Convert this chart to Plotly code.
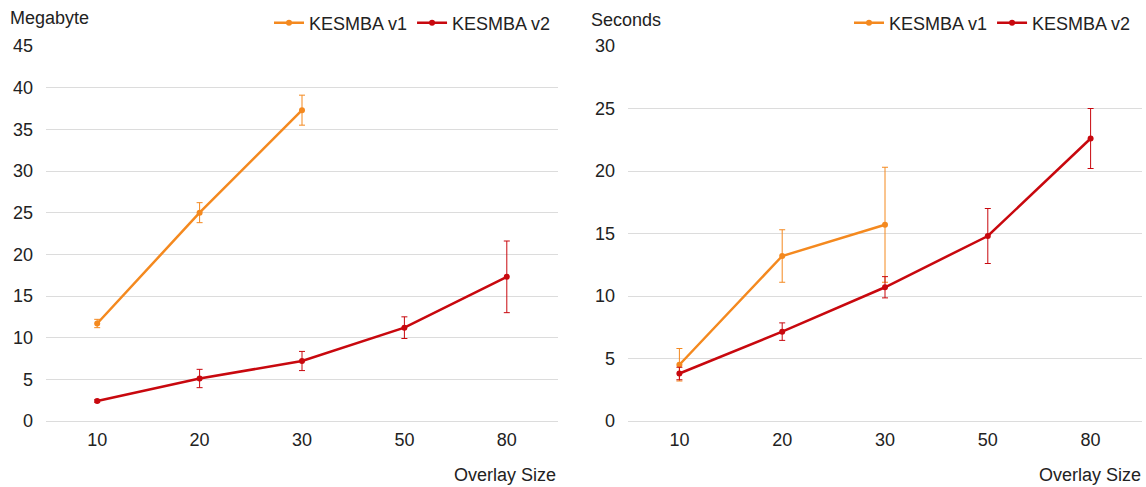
import plotly.graph_objects as go

# Overlay sizes (categorical x axis)
overlay_sizes = ["10", "20", "30", "50", "80"]

# Memory usage (Megabyte)
mem_v1 = [11.7, 25.0, 37.3]
mem_v1_err = [0.5, 1.2, 1.8]
mem_v2 = [2.4, 5.1, 7.2, 11.2, 17.3]
mem_v2_err = [0.15, 1.1, 1.15, 1.3, 4.3]

# Run time (Seconds)
time_v1 = [4.5, 13.2, 15.7]
time_v1_err = [1.3, 2.1, 4.6]
time_v2 = [3.8, 7.15, 10.7, 14.8, 22.6]
time_v2_err = [0.5, 0.7, 0.85, 2.2, 2.4]

ORANGE = "#F4891F"
RED = "#C8080E"
FONT = "Liberation Sans, Arial, sans-serif"
FS = 18

fig = go.Figure()


def add_series(x, y, err, color, name, xaxis, yaxis, legend):
    fig.add_trace(go.Scatter(
        x=x, y=y, name=name, mode="lines+markers",
        line=dict(color=color, width=2.5),
        marker=dict(color=color, size=6),
        error_y=dict(type="data", array=err, visible=True,
                     color=color, thickness=1, width=3),
        xaxis=xaxis, yaxis=yaxis, legend=legend,
    ))


add_series(overlay_sizes[:3], mem_v1, mem_v1_err, ORANGE, "KESMBA v1", "x", "y", "legend")
add_series(overlay_sizes, mem_v2, mem_v2_err, RED, "KESMBA v2", "x", "y", "legend")
add_series(overlay_sizes[:3], time_v1, time_v1_err, ORANGE, "KESMBA v1", "x2", "y2", "legend2")
add_series(overlay_sizes, time_v2, time_v2_err, RED, "KESMBA v2", "x2", "y2", "legend2")

W, H = 1146, 487
y_dom = [66 / H, 441 / H]

xcommon = dict(type="category", categoryorder="array", categoryarray=overlay_sizes,
               range=[-0.5, 4.5], showgrid=False, zeroline=False, showline=False,
               ticks="", tickfont=dict(size=FS, color="#222222", family=FONT),
               ticklabelstandoff=6, fixedrange=True, automargin=False)
ycommon = dict(showgrid=True, gridcolor="#DCDCDC", gridwidth=1, zeroline=True,
               zerolinecolor="#DCDCDC", zerolinewidth=1, showline=False, ticks="",
               tickfont=dict(size=FS, color="#222222", family=FONT),
               ticklabelstandoff=12, fixedrange=True, automargin=False)

legend_common = dict(orientation="h", xanchor="right", yanchor="middle",
                     font=dict(size=FS, color="#222222", family=FONT),
                     bgcolor="rgba(0,0,0,0)", itemwidth=30, tracegroupgap=0)

fig.update_layout(
    width=W, height=H,
    margin=dict(l=0, r=0, t=0, b=0, autoexpand=False),
    paper_bgcolor="white", plot_bgcolor="white",
    font=dict(family=FONT, size=FS, color="#222222"),
    xaxis=dict(domain=[46 / W, 558 / W], anchor="y", **xcommon),
    yaxis=dict(domain=y_dom, anchor="x", range=[0, 45], tickvals=list(range(0, 46, 5)), **ycommon),
    xaxis2=dict(domain=[628 / W, 1142 / W], anchor="y2", **xcommon),
    yaxis2=dict(domain=y_dom, anchor="x2", range=[0, 30], tickvals=list(range(0, 31, 5)), **ycommon),
    legend=dict(x=556 / W, y=1 - 23 / H, **legend_common),
    legend2=dict(x=1136 / W, y=1 - 23 / H, **legend_common),
    annotations=[
        dict(text="Megabyte", x=8 / W, y=1 - 18 / H, xref="paper", yref="paper",
             xanchor="left", yanchor="middle", showarrow=False, font=dict(size=FS)),
        dict(text="Seconds", x=589 / W, y=1 - 20 / H, xref="paper", yref="paper",
             xanchor="left", yanchor="middle", showarrow=False, font=dict(size=FS)),
        dict(text="Overlay Size", x=558 / W, y=1 - 475 / H, xref="paper", yref="paper",
             xanchor="right", yanchor="middle", showarrow=False, font=dict(size=FS)),
        dict(text="Overlay Size", x=1143 / W, y=1 - 475 / H, xref="paper", yref="paper",
             xanchor="right", yanchor="middle", showarrow=False, font=dict(size=FS)),
    ],
)

fig.write_html("out.html", config=dict(displayModeBar=False))
